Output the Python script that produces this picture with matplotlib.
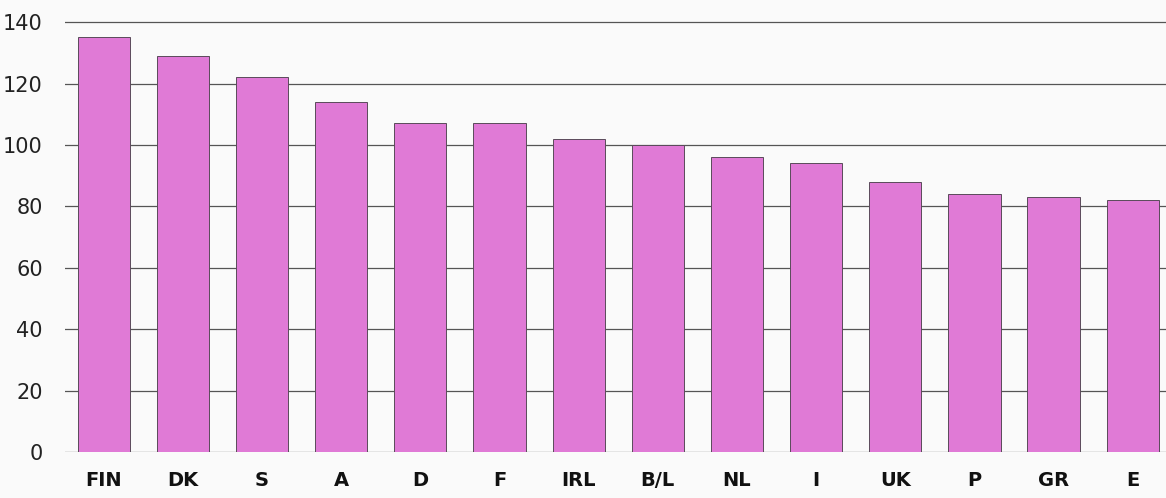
import matplotlib.pyplot as plt
import numpy as np

countries = ['FIN', 'DK', 'S', 'A', 'D', 'F', 'IRL', 'B/L', 'NL', 'I', 'UK', 'P', 'GR', 'E']
values = [135, 129, 122, 114, 107, 107, 102, 100, 96, 94, 88, 84, 83, 82]
yticks = [0, 20, 40, 60, 80, 100, 120, 140]

fig = plt.figure(figsize=(11.66, 4.98), dpi=100)
fig.patch.set_facecolor('#fafafa')
ax = fig.add_axes([0.0557, 0.0924, 0.9443, 0.9076])
ax.set_facecolor('#fafafa')

x = np.arange(len(countries))
for yv in yticks:
    ax.axhline(yv, color='#555555', linewidth=0.9, zorder=1)
ax.bar(x, values, width=0.66, color='#e07ad6', edgecolor='#5a4a5a', linewidth=0.7, zorder=2)

ax.set_xlim(-0.49, 13.42)
ax.set_ylim(0, 147.2)
ax.set_yticks(yticks)
ax.set_yticklabels([str(v) for v in yticks], fontsize=15, color='#222222')
ax.set_xticks(x)
ax.set_xticklabels(countries, fontsize=14, fontweight='black', color='#111111')
ax.tick_params(axis='y', length=0, pad=16)
ax.tick_params(axis='x', length=0, pad=14)
for s in ax.spines.values():
    s.set_visible(False)

fig.savefig('out.png', dpi=100, facecolor=fig.get_facecolor())
